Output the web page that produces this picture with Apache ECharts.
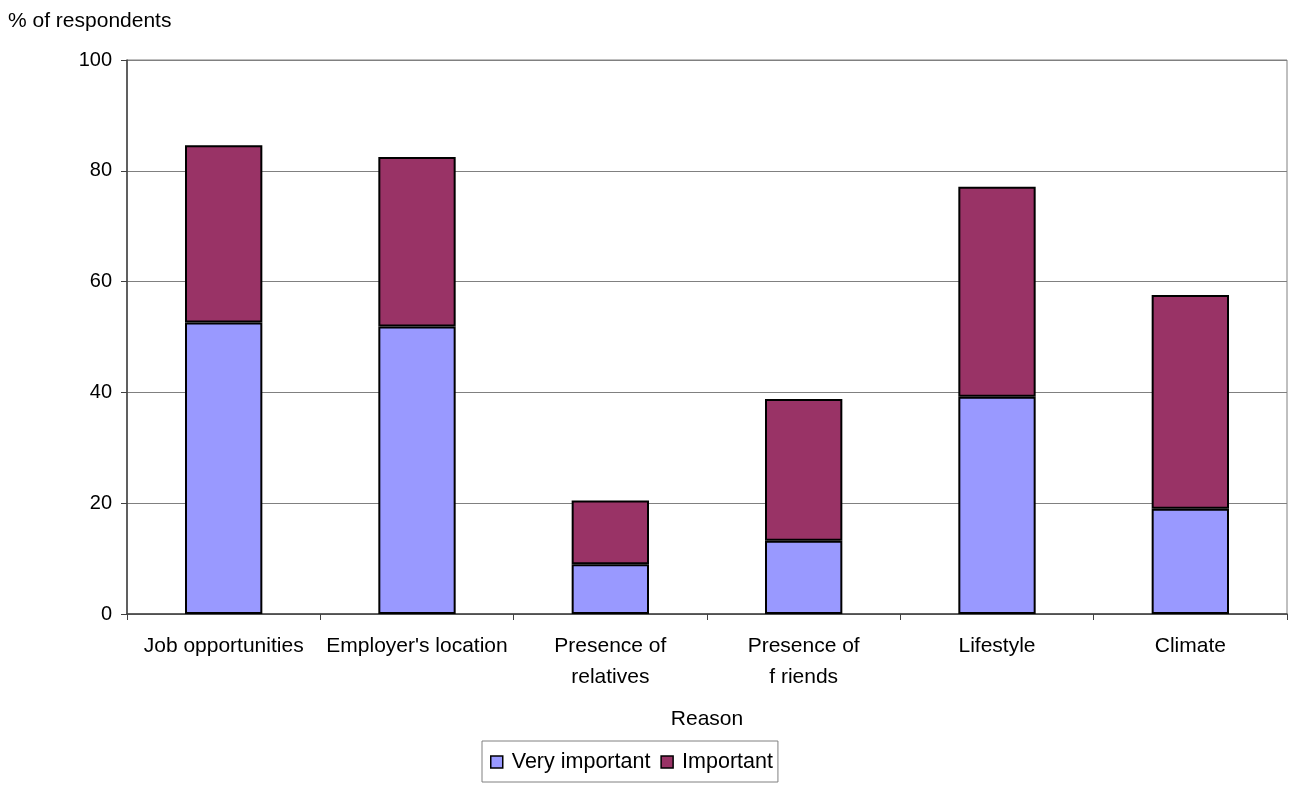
<!DOCTYPE html>
<html>
<head>
<meta charset="utf-8">
<script src="https://cdn.jsdelivr.net/npm/echarts@6/dist/echarts.min.js"></script>
<style>
  html, body { margin: 0; padding: 0; background: #fff; }
  #chart { width: 1289px; height: 785px; }
</style>
</head>
<body>
<div id="chart"></div>
<script>
// Reasons for choosing a location, % of respondents
const reasons = ['Job opportunities', "Employer's location", 'Presence of\nrelatives', 'Presence of\nf riends', 'Lifestyle', 'Climate'];
const veryImportant = [52.6, 51.9, 9.0, 13.2, 39.2, 19.0];
const important = [32.0, 30.6, 11.5, 25.6, 37.9, 38.6];
const yTicks = [0, 20, 40, 60, 80, 100];

const FONT = '"Liberation Sans", Arial, sans-serif';

const chart = echarts.init(document.getElementById('chart'), null, { renderer: 'canvas' });

chart.setOption({
  animation: false,
  backgroundColor: '#ffffff',
  textStyle: { fontFamily: FONT, color: '#000' },
  title: {
    text: '% of respondents',
    left: 8,
    top: 11,
    padding: 0,
    textStyle: { fontFamily: FONT, fontSize: 21, fontWeight: 'normal', color: '#000' }
  },
  grid: { left: 127, right: 2, top: 60, bottom: 171, containLabel: false,
          show: true, borderColor: '#808080', borderWidth: 1 },
  legend: {
    data: ['Very important', 'Important'],
    left: 482,
    top: 741,
    icon: 'rect',
    padding: [10, 5, 9, 8],
    itemGap: 10,
    itemWidth: 12,
    itemHeight: 12,
    itemStyle: { borderColor: '#000', borderWidth: 1.5 },
    borderColor: '#808080',
    borderWidth: 1,
    textStyle: { fontFamily: FONT, fontSize: 21.5, color: '#000', padding: [0, 0, 0, 4] }
  },
  xAxis: {
    type: 'category',
    data: reasons,
    name: 'Reason',
    nameLocation: 'middle',
    nameGap: 95,
    nameTextStyle: { fontFamily: FONT, fontSize: 21, color: '#000' },
    axisLine: { lineStyle: { color: '#404040', width: 1.5 } },
    axisTick: { show: true, length: 6, alignWithLabel: false, lineStyle: { color: '#404040' } },
    axisLabel: { fontFamily: FONT, fontSize: 21, color: '#000', margin: 17, lineHeight: 31, interval: 0 }
  },
  yAxis: {
    type: 'value',
    min: yTicks[0],
    max: yTicks[yTicks.length - 1],
    interval: 20,
    axisLine: { show: true, lineStyle: { color: '#404040', width: 1.5 } },
    axisTick: { show: true, length: 6, lineStyle: { color: '#404040' } },
    axisLabel: { fontFamily: FONT, fontSize: 20, color: '#000', margin: 15 },
    splitLine: { show: true, lineStyle: { color: '#808080', width: 1 } }
  },
  series: [
    {
      name: 'Very important',
      type: 'bar',
      stack: 'total',
      barWidth: '40%',
      data: veryImportant,
      itemStyle: { color: '#9999FF', borderColor: '#000', borderWidth: 2 }
    },
    {
      name: 'Important',
      type: 'bar',
      stack: 'total',
      barWidth: '40%',
      data: important,
      itemStyle: { color: '#993366', borderColor: '#000', borderWidth: 2 }
    }
  ]
});
</script>
</body>
</html>
